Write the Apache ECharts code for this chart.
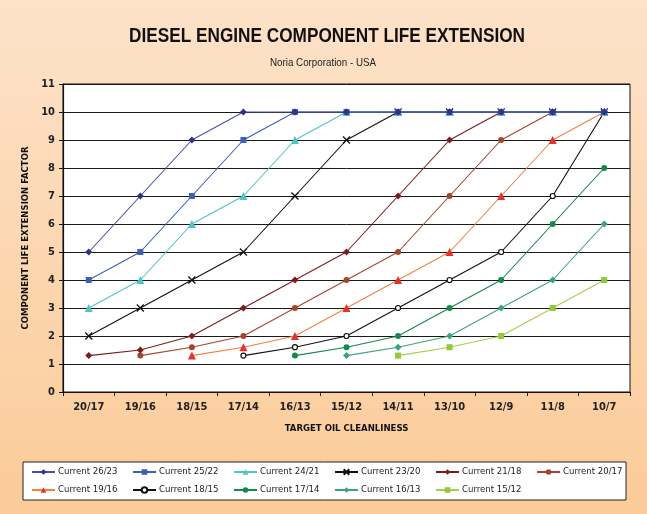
<!DOCTYPE html>
<html><head><meta charset="utf-8">
<script src="https://cdn.jsdelivr.net/npm/echarts@6/dist/echarts.min.js"></script>
<style>html,body{margin:0;padding:0;background:#fff}#c{width:647px;height:514px}</style>
</head><body><div id="c"></div>
<script>
const categories = ['20/17','19/16','18/15','17/14','16/13','15/12','14/11','13/10','12/9','11/8','10/7'];
const yTicks = [0,1,2,3,4,5,6,7,8,9,10,11];
const seriesNames = ['Current 26/23','Current 25/22','Current 24/21','Current 23/20','Current 21/18','Current 20/17','Current 19/16','Current 18/15','Current 17/14','Current 16/13','Current 15/12'];
const s2623 = [5,7,9,10,10,10,10,10,10,10,10];
const s2522 = [4,5,7,9,10,10,10,10,10,10,10];
const s2421 = [3,4,6,7,9,10,10,10,10,10,10];
const s2320 = [2,3,4,5,7,9,10,10,10,10,10];
const s2118 = [1.3,1.5,2,3,4,5,7,9,10,10,10];
const s2017 = [null,1.3,1.6,2,3,4,5,7,9,10,10];
const s1916 = [null,null,1.3,1.6,2,3,4,5,7,9,10];
const s1815 = [null,null,null,1.3,1.6,2,3,4,5,7,10];
const s1714 = [null,null,null,null,1.3,1.6,2,3,4,6,8];
const s1613 = [null,null,null,null,null,1.3,1.6,2,3,4,6];
const s1512 = [null,null,null,null,null,null,1.3,1.6,2,3,4];
const seriesData = [s2623,s2522,s2421,s2320,s2118,s2017,s1916,s1815,s1714,s1613,s1512];
const titleText = 'DIESEL ENGINE COMPONENT LIFE EXTENSION';
const subtitleText = 'Noria Corporation - USA';

const styles = [
  {line:'#4a52a6', mark:'#2d3388', symbol:'diamond', size:7},
  {line:'#3e5fb8', mark:'#3e5fb8', symbol:'rect', size:6},
  {line:'#4fc3c9', mark:'#4fc3c9', symbol:'triangle', size:8},
  {line:'#111111', mark:'#111111', symbol:'path://M0,0L10,10M10,0L0,10', size:7, stroke:true},
  {line:'#7e1c1c', mark:'#7e1c1c', symbol:'diamond', size:7},
  {line:'#a6452b', mark:'#a6452b', symbol:'circle', size:6},
  {line:'#f28040', mark:'#e8302a', symbol:'triangle', size:8},
  {line:'#111111', mark:'#ffffff', symbol:'circle', size:5, border:'#111111'},
  {line:'#15884a', mark:'#15884a', symbol:'circle', size:6},
  {line:'#3aa57a', mark:'#3aa57a', symbol:'diamond', size:7},
  {line:'#a3cf4a', mark:'#93c83a', symbol:'rect', size:6}
];

const font = '"Liberation Sans Narrow","DejaVu Sans Condensed","Liberation Sans",sans-serif';

function measure(text, f){
  const ctx = document.createElement('canvas').getContext('2d');
  ctx.font = f; return ctx.measureText(text).width;
}
const titleW = measure(titleText, 'bold 21px "Liberation Sans"');
const titleScale = 396 / titleW;
const subW = measure(subtitleText, '11px "Liberation Sans"');
const subScale = 106 / subW;

const chart = echarts.init(document.getElementById('c'), null, {renderer:'canvas'});

const series = seriesNames.map((n,i)=>{
  const st = styles[i];
  const itemStyle = st.stroke ? {color:st.mark, borderColor:st.mark, borderWidth:1.3}
    : (st.border ? {color:'#ffffff', borderColor:st.border, borderWidth:1.2} : {color:st.mark});
  return {
    name:n, type:'line', data:seriesData[i], symbol:st.symbol, symbolSize:st.size,
    showAllSymbol:true, lineStyle:{color:st.line, width:1.1}, itemStyle, z: 10-i*0.1,
    emphasis:{disabled:true}
  };
});

const legends = seriesNames.map((n,i)=>({
  data:[n], left: 31 + (i%6)*101, top: i<6 ? 467 : 485, padding:0, itemWidth:23, itemHeight:7, itemGap:2,
  textStyle:{fontFamily:font, fontSize:9.5, color:'#222', padding:[0,0,0,-2]}, selectedMode:false
}));

chart.setOption({
  backgroundColor:{type:'linear', x:0, y:0, x2:0, y2:1, colorStops:[{offset:0,color:'#fde2c9'},{offset:1,color:'#fbcb98'}]},
  animation:false,
  graphic:[
    {type:'text', x:327, y:36, scaleX:titleScale,
      style:{text:titleText, font:'bold 21px "Liberation Sans"', fill:'#111', align:'center', verticalAlign:'middle'}},
    {type:'text', x:323, y:63, scaleX:subScale,
      style:{text:subtitleText, font:'11px "Liberation Sans"', fill:'#222', align:'center', verticalAlign:'middle'}},
    {type:'rect', shape:{x:23, y:462, width:603, height:38}, style:{fill:'#fff', stroke:'#222', lineWidth:1}, z:-1}
  ],
  legend: legends,
  grid:{left:63, right:17, top:84, bottom:122, show:true, backgroundColor:'#fff', borderColor:'#111', borderWidth:1},
  xAxis:{type:'category', data:categories, boundaryGap:true,
    name:'TARGET OIL CLEANLINESS', nameLocation:'middle', nameGap:32,
    nameTextStyle:{fontFamily:font, fontWeight:'bold', fontSize:9.5, color:'#111'},
    axisLine:{lineStyle:{color:'#111', width:1.2}},
    axisTick:{show:true, inside:false, length:4, lineStyle:{color:'#111'}, alignWithLabel:false},
    axisLabel:{fontFamily:font, fontSize:11, color:'#222', margin:10, fontWeight:'bold'}},
  yAxis:{type:'value', min:0, max:11, interval:1,
    name:'COMPONENT LIFE EXTENSION FACTOR', nameLocation:'middle', nameGap:30, nameRotate:90,
    nameTextStyle:{fontFamily:font, fontWeight:'bold', fontSize:9.5, color:'#111'},
    axisLine:{show:true, lineStyle:{color:'#111', width:1.2}},
    axisTick:{show:true, length:4, lineStyle:{color:'#111'}},
    axisLabel:{fontFamily:font, fontSize:11, color:'#222', margin:8, fontWeight:'bold',
      formatter:v=> yTicks.includes(v) ? String(v) : ''},
    splitLine:{show:true, lineStyle:{color:'#1a1a1a', width:1}}},
  series
});
</script></body></html>
